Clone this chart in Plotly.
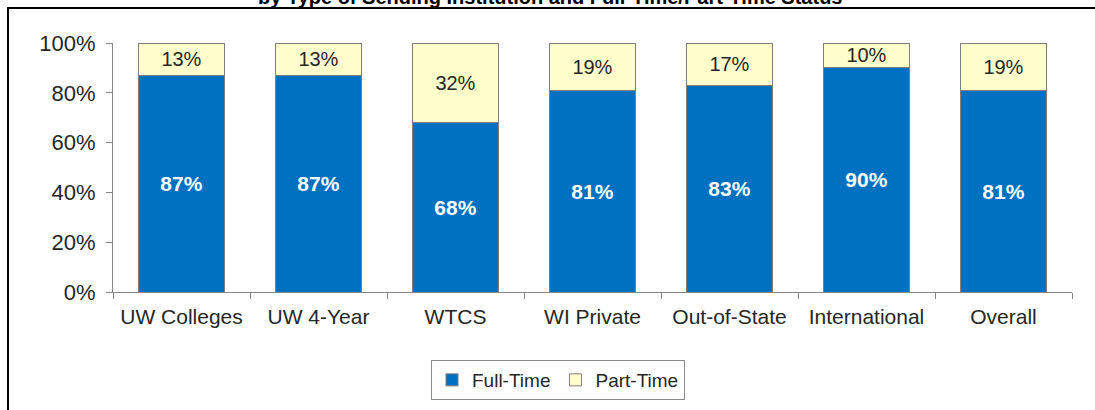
import plotly.graph_objects as go

categories = ["UW Colleges", "UW 4-Year", "WTCS", "WI Private", "Out-of-State", "International", "Overall"]
full_time = [87, 87, 68, 81, 83, 90, 81]
part_time = [13, 13, 32, 19, 17, 10, 19]
y_ticks = [0, 20, 40, 60, 80, 100]
y_tick_labels = ["0%", "20%", "40%", "60%", "80%", "100%"]
title_text = "by Type of Sending Institution and Full-Time/Part-Time Status"

W, H = 1095, 410
L, R, T, B = 113, 23, 43, 118
pw, ph = W - L - R, H - T - B

def px_x(x):
    return (x - L) / pw

def px_y(y):
    return (H - B - y) / ph

FONT = "Liberation Sans, Arial, sans-serif"

fig = go.Figure()
fig.add_trace(go.Bar(
    x=categories, y=full_time, name="Full-Time",
    marker=dict(color="#0070C0", line=dict(color="#7F7F7F", width=1)),
    text=[f"{v}%" for v in full_time], textposition="inside", insidetextanchor="middle",
    constraintext="none",
    textfont=dict(family=FONT, size=21, color="white", weight="bold"),
))
fig.add_trace(go.Bar(
    x=categories, y=part_time, name="Part-Time",
    marker=dict(color="#FFFFCC", line=dict(color="#7F7F7F", width=1)),
    text=[f"{v}%" for v in part_time], textposition="inside", insidetextanchor="middle",
    constraintext="none",
    textfont=dict(family=FONT, size=20, color="#262626"),
))

fig.update_layout(
    width=W, height=H, barmode="stack", bargap=0.375,
    margin=dict(l=L, r=R, t=T, b=B, autoexpand=False),
    paper_bgcolor="white", plot_bgcolor="white",
    font=dict(family=FONT, color="#262626"),
    showlegend=True,
    legend=dict(orientation="h", x=558 / W, y=1 - 380 / H, xanchor="center", yanchor="middle",
                xref="container", yref="container",
                bordercolor="#8C8C8C", borderwidth=1, font=dict(family=FONT, size=19, color="#262626"),
                itemwidth=30, traceorder="normal"),
    xaxis=dict(showline=True, linecolor="#868686", linewidth=1, ticks="outside", tickson="boundaries",
               ticklen=6, tickcolor="#868686", tickfont=dict(family=FONT, size=21, color="#262626"),
               tickangle=0, ticklabelstandoff=6, showgrid=False, automargin=False),
    yaxis=dict(range=[0, 100], tickmode="array", tickvals=y_ticks, ticktext=y_tick_labels,
               showline=True, linecolor="#868686", linewidth=1, ticks="outside", ticklen=6,
               tickcolor="#868686", tickfont=dict(family=FONT, size=22, color="#262626"),
               ticklabelstandoff=6, showgrid=False, zeroline=False, automargin=False),
    shapes=[dict(type="rect", xref="paper", yref="paper",
                 x0=px_x(8), x1=px_x(1200), y0=px_y(600), y1=px_y(8),
                 line=dict(color="black", width=2), fillcolor="rgba(0,0,0,0)", layer="above")],
    annotations=[dict(text=f"<b>{title_text}</b>", xref="paper", yref="paper",
                      x=px_x(550), y=px_y(-3), xanchor="center", yanchor="middle",
                      showarrow=False, font=dict(family=FONT, size=20, color="black"))],
)

fig.write_html("out.html", config={"displayModeBar": False},
               post_script="document.body.style.margin='0';")
